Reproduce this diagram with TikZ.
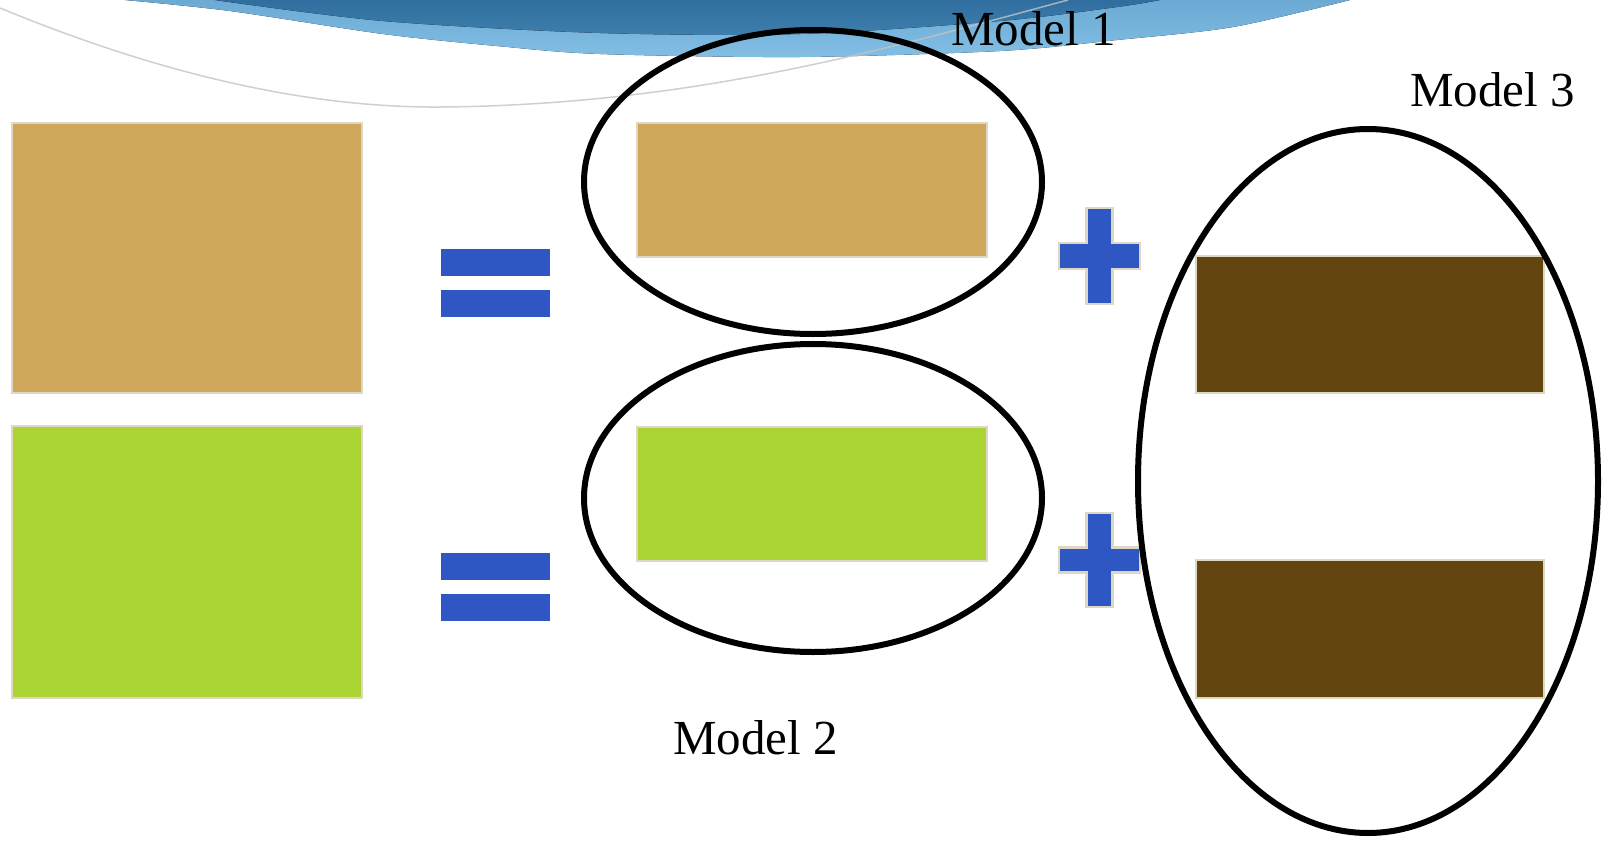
\documentclass[tikz,border=0pt]{standalone}
\usepackage{fontspec}
\setmainfont{Liberation Serif}
\usetikzlibrary{shapes.geometric}
\definecolor{tanc}{RGB}{206,167,91}
\definecolor{greenc}{RGB}{171,212,53}
\definecolor{brownc}{RGB}{99,69,15}
\definecolor{bordc}{RGB}{222,215,196}
\definecolor{signblue}{RGB}{46,87,196}
\definecolor{banddarktop}{RGB}{48,110,160}
\definecolor{banddarkbot}{RGB}{62,127,172}
\definecolor{bandlighttop}{RGB}{108,170,212}
\definecolor{bandlightbot}{RGB}{130,190,228}
\definecolor{swoosh}{RGB}{195,195,195}
\begin{document}
\begin{tikzpicture}[x=1pt,y=-1pt,
  box/.style={draw=bordc, line width=2.5pt, inner sep=0pt, outer sep=0pt, anchor=north west},
  bar/.style={fill=signblue, inner sep=0pt, outer sep=0pt, anchor=north west, minimum width=109pt, minimum height=27pt},
  plussign/.style={fill=signblue, draw=bordc, line width=2.5pt},
  ring/.style={ellipse, draw=black, line width=6pt, inner sep=0pt, outer sep=0pt, anchor=center},
  label/.style={anchor=base west, inner sep=0pt, font=\fontsize{49}{55}\selectfont}]
\useasboundingbox (0,0) rectangle (1610,841);
% banner
\fill[top color=bandlighttop, bottom color=bandlightbot] plot[smooth] coordinates {(125,0) (230,11) (383,34) (497,46) (600,54) (800,57) (1000,51) (1117,40) (1233,27) (1350,0)} -- cycle;
\fill[top color=banddarktop, bottom color=banddarkbot] plot[smooth] coordinates {(215,0) (383,21) (600,33) (800,34) (1000,21) (1117,7) (1160,0)} -- cycle;
\draw[swoosh, line width=1.5pt, opacity=0.8] (0,8) .. controls (150,70) and (300,108) .. (440,107) .. controls (700,105) and (900,45) .. (1068,0);
% left rectangles
\node[box, fill=tanc, minimum width=350pt, minimum height=270pt] (bigtan) at (12,123) {};
\node[box, fill=greenc, minimum width=350pt, minimum height=272pt] (biggreen) at (12,426) {};
% equals signs
\node[bar] (eqa1) at (441,249) {};
\node[bar] (eqa2) at (441,290) {};
\node[bar] (eqb1) at (441,553) {};
\node[bar] (eqb2) at (441,594) {};
% middle rectangles
\node[box, fill=tanc, minimum width=350pt, minimum height=134pt] (smalltan) at (637,123) {};
\node[box, fill=greenc, minimum width=350pt, minimum height=134pt] (smallgreen) at (637,427) {};
% right rectangles
\node[box, fill=brownc, minimum width=348pt, minimum height=137pt] (browna) at (1196,256) {};
\node[box, fill=brownc, minimum width=348pt, minimum height=138pt] (brownb) at (1196,560) {};
% plus signs
\draw[plussign, shift={(1099.5,256)}] (-13,-48) -- (13,-48) -- (13,-13) -- (40.5,-13) -- (40.5,13) -- (13,13) -- (13,48) -- (-13,48) -- (-13,13) -- (-40.5,13) -- (-40.5,-13) -- (-13,-13) -- cycle;
\draw[plussign, shift={(1099.5,560)}] (-13,-47) -- (13,-47) -- (13,-12.5) -- (40.5,-12.5) -- (40.5,12.5) -- (13,12.5) -- (13,47) -- (-13,47) -- (-13,12.5) -- (-40.5,12.5) -- (-40.5,-12.5) -- (-13,-12.5) -- cycle;
% ellipses
\node[ring, minimum width=458pt, minimum height=304pt] (model1) at (813,182) {};
\node[ring, minimum width=458pt, minimum height=308pt] (model2) at (813,498) {};
\node[ring, minimum width=460pt, minimum height=704pt] (model3) at (1368,481) {};
% labels
\node[label] (lab1) at (951,45) {Model 1};
\node[label] (lab2) at (673,754) {Model 2};
\node[label] (lab3) at (1410,106) {Model 3};
\end{tikzpicture}
\end{document}
